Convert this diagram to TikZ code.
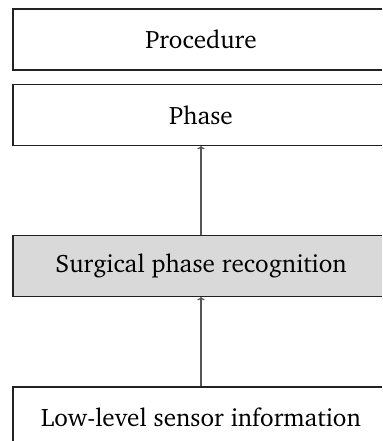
\documentclass[tikz,border=0pt]{standalone}
\usepackage[T1]{fontenc}
\usepackage{charter}
\usetikzlibrary{arrows.meta}
\definecolor{boxline}{HTML}{222222}
\definecolor{arrowline}{HTML}{555555}
\definecolor{recfill}{HTML}{D9D9D9}
\tikzset{
  layer/.style={draw=boxline, line width=0.55pt, minimum width=188pt, minimum height=30.5pt,
                inner sep=0pt, font=\fontsize{12.6}{15}\selectfont, text=black},
  flow/.style={draw=arrowline, line width=0.6pt, -{To[length=1.6pt,width=3.6pt]}},
}
\begin{document}
\begin{tikzpicture}[x=0.5pt, y=-0.5pt]
  \path[use as bounding box, clip] (0,0) rectangle (382,441);
  \node[layer] (procedure) at (201,39.5) {Procedure};
  \node[layer] (phase) at (201,115) {Phase};
  \node[layer, fill=recfill] (recognition) at (201,266) {Surgical phase recognition};
  \node[layer] (sensor) at (201,417.5) {Low-level sensor information};
  \draw[flow] (recognition.north) -- (phase.south);
  \draw[flow] (sensor.north) -- (recognition.south);
\end{tikzpicture}
\end{document}
